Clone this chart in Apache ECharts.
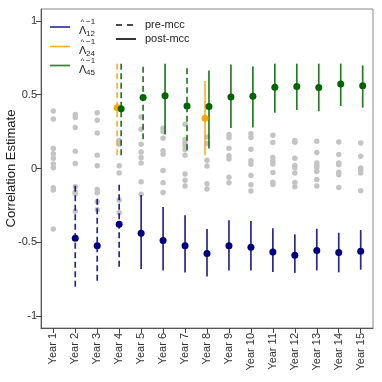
<!DOCTYPE html>
<html>
<head>
<meta charset="utf-8">
<script src="https://cdn.jsdelivr.net/npm/echarts@6/dist/echarts.min.js"></script>
<style>
  html, body { margin: 0; padding: 0; background: #fff; }
  #main { width: 382px; height: 382px; }
</style>
</head>
<body>
<div id="main"></div>
<script>
// x categories
var years = [1, 2, 3, 4, 5, 6, 7, 8, 9, 10, 11, 12, 13, 14, 15];
var yTicks = [-1, -0.5, 0, 0.5, 1];

// gray background estimates, one list per year
var grayVals = [
  [0.39, 0.335, 0.135, 0.10, 0.07, 0.03, 0.005, -0.13, -0.145, -0.41],
  [0.365, 0.345, 0.277, 0.117, 0.034, -0.124, -0.16, -0.17, -0.29],
  [0.378, 0.326, 0.241, 0.09, 0.018, -0.142, -0.165, -0.225, -0.28],
  [0.19, 0.165, 0.018, -0.03, -0.214, -0.30],
  [0.349, 0.266, 0.164, 0.112, 0.074, 0.038, -0.09, -0.175],
  [0.272, 0.25, 0.205, 0.12, 0.096, -0.013, -0.097, -0.163],
  [0.30, 0.196, 0.176, 0.155, 0.128, 0.09, -0.037, -0.079, -0.118],
  [0.214, 0.17, 0.056, 0.017, -0.103, -0.138],
  [0.23, 0.208, 0.137, 0.086, 0.064, -0.059, -0.097],
  [0.236, 0.21, 0.13, 0.053, 0.028, -0.048, -0.11, -0.153],
  [0.225, 0.176, 0.075, 0.05, 0.03, -0.027, -0.093, -0.108],
  [0.19, 0.178, 0.07, 0.02, 0.005, -0.03, -0.095, -0.124],
  [0.185, 0.108, 0.038, 0.02, 0.008, -0.02, -0.075, -0.118],
  [0.18, 0.095, 0.037, 0.025, -0.025, -0.042, -0.128],
  [0.173, 0.083, 0.004, -0.012, -0.03, -0.151]
];

// Lambda12^-1 (blue)
var blueYears = [2, 3, 4, 5, 6, 7, 8, 9, 10, 11, 12, 13, 14, 15];
var blueEst = [-0.473, -0.523, -0.378, -0.439, -0.487, -0.523, -0.576, -0.523, -0.534, -0.566, -0.588, -0.556, -0.568, -0.561];
var blueLo = [-0.80, -0.76, -0.665, -0.68, -0.69, -0.705, -0.732, -0.69, -0.69, -0.70, -0.707, -0.69, -0.703, -0.685];
var blueHi = [-0.11, -0.187, -0.09, -0.18, -0.26, -0.316, -0.41, -0.35, -0.356, -0.405, -0.446, -0.408, -0.435, -0.417];
var bluePhase = ['pre', 'pre', 'pre', 'post', 'post', 'post', 'post', 'post', 'post', 'post', 'post', 'post', 'post', 'post'];

// Lambda24^-1 (orange)
var orangeYears = [4, 8];
var orangeEst = [0.412, 0.34];
var orangeLo = [0.09, 0.09];
var orangeHi = [0.71, 0.592];
var orangePhase = ['pre', 'post'];

// Lambda45^-1 (green)
var greenYears = [4, 5, 6, 7, 8, 9, 10, 11, 12, 13, 14, 15];
var greenEst = [0.405, 0.48, 0.493, 0.423, 0.419, 0.484, 0.49, 0.551, 0.555, 0.549, 0.572, 0.561];
var greenLo = [0.09, 0.198, 0.23, 0.124, 0.135, 0.274, 0.277, 0.378, 0.396, 0.387, 0.423, 0.412];
var greenHi = [0.71, 0.69, 0.71, 0.687, 0.664, 0.705, 0.69, 0.71, 0.71, 0.71, 0.71, 0.698];
var greenPhase = ['pre', 'pre', 'post', 'pre', 'post', 'post', 'post', 'post', 'post', 'post', 'post', 'post'];

var NAVY = '#000080', GREEN = '#006400', ORANGE = '#FFA500', GRAY = '#c4c4c4';
var FONT = 'Liberation Sans';

var grayData = [];
grayVals.forEach(function (list, i) {
  list.forEach(function (v) { grayData.push([years[i], v]); });
});

function barSeries(yrs, lo, hi, phase, color, dx) {
  return {
    type: 'custom',
    silent: true,
    z: 3,
    encode: { x: 0, y: [1, 2] },
    data: yrs.map(function (y, i) { return [y + dx, lo[i], hi[i], phase[i] === 'pre' ? 1 : 0]; }),
    renderItem: function (params, api) {
      var a = api.coord([api.value(0), api.value(1)]);
      var b = api.coord([api.value(0), api.value(2)]);
      return {
        type: 'line',
        shape: { x1: a[0], y1: a[1], x2: b[0], y2: b[1] },
        style: { stroke: color, lineWidth: 1.7, opacity: 0.85, lineDash: api.value(3) ? [6, 3.5] : null }
      };
    }
  };
}

function pointSeries(yrs, est, color, dx) {
  return {
    type: 'scatter',
    silent: true,
    z: 5,
    symbolSize: 7,
    itemStyle: { color: color, opacity: 1 },
    data: yrs.map(function (y, i) { return [y + dx, est[i]]; })
  };
}

function legendLabel(x, y, sub) {
  return [
    { type: 'text', left: x, top: y, style: { text: 'Λ', font: '11px ' + FONT, fill: '#222' } },
    { type: 'text', left: x + 1.5, top: y - 7, style: { text: '^', font: '8px ' + FONT, fill: '#222' } },
    { type: 'text', left: x + 7, top: y - 7, style: { text: '−1', font: '8px ' + FONT, fill: '#222' } },
    { type: 'text', left: x + 7, top: y + 5, style: { text: sub, font: '8px ' + FONT, fill: '#222' } }
  ];
}

var graphics = [
  { type: 'line', shape: { x1: 50, y1: 27, x2: 70, y2: 27 }, style: { stroke: NAVY, lineWidth: 1.7, opacity: 0.8 } },
  { type: 'line', shape: { x1: 50, y1: 46.5, x2: 70, y2: 46.5 }, style: { stroke: ORANGE, lineWidth: 1.7, opacity: 0.85 } },
  { type: 'line', shape: { x1: 50, y1: 65.5, x2: 70, y2: 65.5 }, style: { stroke: GREEN, lineWidth: 1.7, opacity: 0.8 } },
  { type: 'line', shape: { x1: 116, y1: 25, x2: 134, y2: 25 }, style: { stroke: '#111', lineWidth: 1.7, lineDash: [6, 5] } },
  { type: 'line', shape: { x1: 116, y1: 39, x2: 136, y2: 39 }, style: { stroke: '#111', lineWidth: 1.7 } },
  { type: 'text', left: 145, top: 19, style: { text: 'pre-mcc', font: '11px ' + FONT, fill: '#222' } },
  { type: 'text', left: 145, top: 33, style: { text: 'post-mcc', font: '11px ' + FONT, fill: '#222' } }
].concat(legendLabel(79, 25, '12'), legendLabel(79, 45, '24'), legendLabel(79, 64, '45'));

var chart = echarts.init(document.getElementById('main'), null, { renderer: 'canvas' });
chart.setOption({
  animation: false,
  backgroundColor: '#fff',
  grid: {
    left: 41, top: 9, right: 9, bottom: 54,
    outerBoundsMode: 'none',
    show: true, borderColor: '#888', borderWidth: 1
  },
  xAxis: {
    type: 'value',
    min: 0.44,
    max: 15.56,
    splitLine: { show: false },
    axisLine: { show: true, onZero: false, lineStyle: { color: '#555' } },
    axisTick: { show: true, length: 5, customValues: years, lineStyle: { color: '#444' } },
    axisLabel: {
      customValues: years,
      rotate: 90,
      margin: 5,
      fontFamily: FONT,
      fontSize: 11,
      color: '#333',
      formatter: function (v) { return 'Year ' + v; }
    }
  },
  yAxis: {
    type: 'value',
    min: -1.08,
    max: 1.08,
    name: 'Correlation Estimate',
    nameLocation: 'middle',
    nameGap: 23,
    nameMoveOverlap: false,
    nameTextStyle: { fontFamily: FONT, fontSize: 13, color: '#222' },
    splitLine: { show: false },
    axisLine: { show: true, lineStyle: { color: '#555' } },
    axisTick: { show: true, length: 5, customValues: yTicks, lineStyle: { color: '#444' } },
    axisLabel: {
      customValues: yTicks,
      margin: 4,
      fontFamily: FONT,
      fontSize: 11,
      color: '#333',
      formatter: function (v) { return String(v); }
    }
  },
  graphic: graphics,
  series: [
    { type: 'scatter', silent: true, z: 2, symbolSize: 5.5, itemStyle: { color: GRAY, opacity: 1 }, data: grayData },
    barSeries(orangeYears, orangeLo, orangeHi, orangePhase, ORANGE, -0.09),
    barSeries(greenYears, greenLo, greenHi, greenPhase, GREEN, 0.09),
    barSeries(blueYears, blueLo, blueHi, bluePhase, NAVY, 0),
    pointSeries(orangeYears, orangeEst, ORANGE, -0.09),
    pointSeries(greenYears, greenEst, GREEN, 0.09),
    pointSeries(blueYears, blueEst, NAVY, 0)
  ]
});
</script>
</body>
</html>
